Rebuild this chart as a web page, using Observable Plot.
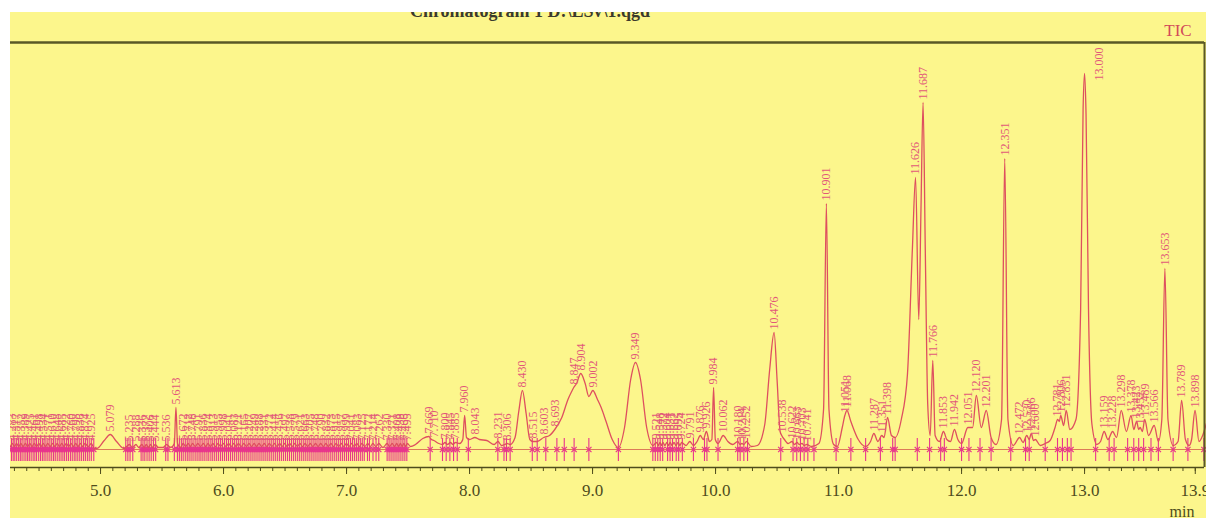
<!DOCTYPE html>
<html><head><meta charset="utf-8">
<script src="https://cdn.jsdelivr.net/npm/d3@7"></script>
<script src="https://cdn.jsdelivr.net/npm/@observablehq/plot@0.6"></script>
<style>
html,body{margin:0;padding:0;background:#fff;}
#wrap{position:absolute;left:10px;top:12px;width:1196px;height:506px;}
</style></head><body><div id="wrap"></div>
<script>
// ---- data ----
const titleText = "Chromatogram 1 D:\\LSv\\1.qgd";
const seriesName = "TIC";
const unitLabel = "min";
const xDomain = [4.268, 13.975];
const yDomain = [-18, 407];
const majorTicks = [5, 6, 7, 8, 9, 10, 11, 12, 13, 13.9];

// TIC trace: [retention time (min), signal]
const trace = [
[4.268,3],[4.283,6],[4.300,3],[4.317,6],[4.335,3],[4.352,6],[4.370,3],[4.389,6],[4.407,3],[4.425,6],[4.443,3],[4.461,6],[4.480,3],[4.498,6],[4.516,3],[4.534,6],[4.552,3],[4.571,6],[4.590,3],[4.610,6],[4.629,3],[4.648,6],[4.666,3],[4.685,6],[4.703,3],[4.722,6],[4.741,3],[4.760,6],[4.779,3],[4.798,6],[4.817,3],[4.836,6],[4.855,3],[4.874,6],[4.900,3],[4.925,6],[4.950,1],
[4.97,1],[5.03,9],[5.079,15],[5.13,8],[5.19,1],[5.235,5],[5.26,2],[5.288,5],[5.31,2],[5.336,5],[5.355,2],[5.372,5],[5.39,2],[5.406,5],[5.425,2],[5.444,5],[5.47,2],[5.51,2],[5.536,5],[5.57,2],[5.600,6],[5.613,42],[5.626,6],[5.65,2],
[5.672,6],[5.692,3],[5.712,6],[5.730,3],[5.748,6],[5.770,3],[5.791,6],[5.813,3],[5.836,6],[5.855,3],[5.874,6],[5.893,3],[5.913,6],[5.934,3],[5.955,6],[5.976,3],[5.998,6],[6.020,3],[6.041,6],[6.062,3],[6.083,6],[6.102,3],[6.121,6],[6.143,3],[6.165,6],[6.186,3],[6.207,6],[6.228,3],[6.249,6],[6.268,3],[6.288,6],[6.310,3],[6.331,6],[6.352,3],[6.372,6],[6.393,3],[6.414,6],[6.435,3],[6.456,6],[6.476,3],[6.497,6],[6.517,3],[6.538,6],[6.558,3],[6.579,6],[6.600,3],[6.621,6],[6.642,3],[6.663,6],[6.684,3],[6.705,6],[6.726,3],[6.748,6],[6.769,3],[6.790,6],[6.811,3],[6.832,6],[6.852,3],[6.873,6],[6.894,3],[6.915,6],[6.936,3],[6.957,6],[6.978,3],[6.999,6],[7.020,3],[7.041,6],[7.062,3],[7.083,6],[7.104,3],[7.125,6],[7.148,3],[7.172,6],[7.193,3],[7.214,6],[7.238,3],[7.262,6],[7.296,2],[7.330,6],[7.350,3],[7.371,6],[7.390,3],[7.408,6],[7.423,3],[7.438,6],[7.452,3],[7.466,6],[7.480,3],[7.495,6],[7.52,3],
[7.56,5],[7.62,11],[7.669,13],[7.69,10],[7.710,9],[7.75,6],[7.78,5],[7.800,7],[7.82,5],[7.845,7],[7.865,5],[7.885,7],[7.92,6],[7.945,10],[7.960,34],[7.975,12],[8.00,10],[8.043,12],[8.08,10],[8.14,9],[8.20,5],[8.231,8],[8.26,4],[8.285,5],[8.306,6],[8.33,5],[8.37,12],[8.40,38],[8.430,59],[8.46,36],[8.49,10],[8.515,8],[8.55,8],[8.603,12],[8.65,14],[8.693,20],[8.75,32],[8.80,50],[8.83,58],[8.847,62],[8.87,66],[8.904,76],[8.94,66],[8.97,53],[9.002,59],[9.04,50],[9.07,42],[9.11,28],[9.16,10],[9.21,2],[9.26,22],[9.31,70],[9.349,87],[9.39,70],[9.44,22],[9.49,4],
[9.521,7],[9.535,4],[9.548,7],[9.56,4],[9.572,7],[9.588,4],[9.604,7],[9.617,4],[9.631,7],[9.646,4],[9.662,7],[9.678,4],[9.695,7],[9.71,4],[9.724,7],[9.76,4],[9.791,8],[9.82,4],[9.850,8],[9.876,14],[9.90,10],[9.926,18],[9.95,8],[9.970,10],[9.984,62],[9.998,10],[10.02,6],[10.062,14],[10.10,8],[10.14,5],[10.180,8],[10.20,5],[10.214,6],[10.23,5],[10.252,8],[10.29,3],[10.34,4],[10.40,25],[10.44,80],[10.476,117],[10.50,70],[10.525,18],[10.538,14],[10.56,10],[10.59,6],[10.622,8],[10.64,5],[10.663,7],[10.68,5],[10.703,6],[10.72,4],[10.741,5],[10.78,3],[10.84,6],[10.878,40],[10.901,246],[10.922,40],[10.96,5],
[10.99,3],[11.03,22],[11.051,34],[11.068,39],[11.10,28],[11.16,10],[11.22,3],[11.26,8],[11.287,16],[11.32,8],[11.351,14],[11.37,12],[11.398,32],[11.43,14],[11.46,12],[11.51,30],[11.56,75],[11.60,200],[11.626,272],[11.652,130],[11.670,240],[11.687,347],[11.705,200],[11.725,45],[11.745,14],[11.766,89],[11.785,14],[11.82,8],[11.853,18],[11.88,10],[11.91,8],[11.942,20],[11.97,10],[12.00,6],[12.051,22],[12.09,22],[12.120,54],[12.16,22],[12.201,39],[12.24,12],[12.28,5],[12.325,30],[12.351,291],[12.377,30],[12.42,4],
[12.472,12],[12.50,7],[12.530,14],[12.55,10],[12.566,16],[12.585,9],[12.600,10],[12.64,4],[12.68,6],[12.72,9],[12.76,22],[12.781,30],[12.795,28],[12.806,34],[12.83,24],[12.851,39],[12.88,20],[12.93,30],[12.968,140],[12.988,340],[13.000,376],[13.012,335],[13.032,140],[13.06,25],[13.10,5],
[13.13,8],[13.159,18],[13.19,10],[13.228,18],[13.26,12],[13.298,39],[13.34,18],[13.378,34],[13.40,20],[13.423,28],[13.44,20],[13.452,22],[13.47,18],[13.489,30],[13.52,14],[13.566,24],[13.60,8],[13.628,30],[13.653,181],[13.678,30],[13.72,4],[13.76,8],[13.789,49],[13.82,10],[13.85,4],[13.87,10],[13.898,39],[13.93,8],[13.96,14],[13.99,26]
];

// peak labels: [retention time label, apex signal]
const peaksEarly = [
["4.283",6],["4.317",6],["4.352",6],["4.389",6],["4.425",6],["4.461",6],["4.498",6],["4.534",6],["4.571",6],["4.610",6],["4.648",6],["4.685",6],["4.722",6],["4.760",6],["4.798",6],["4.836",6],["4.874",6],["4.925",6],
["5.079",15],["5.235",5],["5.288",5],["5.336",5],["5.372",5],["5.406",5],["5.444",5],["5.536",5],["5.613",42],
["5.672",6],["5.712",6],["5.748",6],["5.791",6],["5.836",6],["5.874",6],["5.913",6],["5.955",6],["5.998",6],["6.041",6],["6.083",6],["6.121",6],["6.165",6],["6.207",6],["6.249",6],["6.288",6],["6.331",6],["6.372",6],["6.414",6],["6.456",6],["6.497",6],["6.538",6],["6.579",6],["6.621",6],["6.663",6],["6.705",6],["6.748",6],["6.790",6],["6.832",6],["6.873",6],["6.915",6],["6.957",6],["6.999",6],["7.041",6],["7.083",6],["7.125",6],["7.172",6],["7.214",6],["7.262",6],["7.330",6],["7.371",6],["7.408",6],["7.438",6],["7.466",6],["7.495",6]
];
const peaksMid = [
["7.669",13],["7.710",9],["7.800",7],["7.845",7],["7.885",7],["7.960",34],["8.043",12],["8.231",8],["8.306",6],["8.430",59],["8.515",8],["8.603",12],["8.693",20],["8.847",62],["8.904",76],["9.002",59],["9.349",87],
["9.521",7],["9.548",7],["9.572",7],["9.604",7],["9.631",7],["9.662",7],["9.695",7],["9.724",7],["9.791",8],["9.876",14],["9.926",18],["9.984",62],["10.062",14],["10.180",8],["10.214",6],["10.252",8],["10.476",117],["10.538",14],["10.622",8],["10.663",7],["10.703",6],["10.741",5]
];
const peaksLate = [
["10.901",246],["11.051",34],["11.068",39],["11.287",16],["11.351",14],["11.398",32],["11.626",272],["11.687",347],["11.766",89],["11.853",18],["11.942",20],["12.051",22],["12.120",54],["12.201",39],["12.351",291],
["12.472",12],["12.530",14],["12.566",16],["12.600",10],["12.781",30],["12.806",34],["12.851",39],["13.000",376],
["13.159",18],["13.228",18],["13.298",39],["13.378",34],["13.423",28],["13.452",22],["13.489",30],["13.566",24],["13.653",181],["13.789",49],["13.898",39]
];

// integration markers (peak start/end), min
const markerTimes = [
4.276,4.290,4.303,4.318,4.334,4.348,4.362,4.378,4.393,4.407,4.421,4.436,4.452,4.466,4.480,4.497,4.512,4.527,4.541,4.556,4.572,4.588,4.603,4.618,4.632,4.648,4.664,4.679,4.694,4.708,4.724,4.739,4.755,4.770,4.786,4.800,4.815,4.831,4.846,4.862,4.877,4.893,4.908,4.925,4.945,
5.205,5.222,5.240,5.262,5.330,5.345,5.360,5.378,5.395,5.412,5.430,5.448,5.530,5.548,5.600,
5.625,5.641,5.657,5.672,5.689,5.705,5.720,5.736,5.752,5.769,5.785,5.801,5.816,5.832,5.848,5.865,5.880,5.897,5.912,5.928,5.944,5.960,5.976,5.992,6.008,6.024,6.040,6.056,6.072,6.088,6.104,6.120,6.136,6.152,6.168,6.184,6.200,6.216,6.232,6.248,6.264,6.280,6.296,6.312,6.328,6.344,6.360,6.376,6.392,6.408,6.424,6.440,6.456,6.472,6.488,6.504,6.520,6.536,6.552,6.568,6.584,6.600,6.616,6.632,6.648,6.664,6.680,6.696,6.712,6.728,6.744,6.760,6.776,6.792,6.808,6.824,6.840,6.856,6.872,6.888,6.904,6.920,6.936,6.952,6.968,6.984,7.000,7.016,7.032,7.048,7.064,7.080,7.096,7.112,7.128,7.144,7.170,7.186,7.215,7.240,7.262,7.330,7.346,7.362,7.378,7.394,7.410,7.426,7.442,7.458,7.474,7.490,
7.68,7.78,7.81,7.84,7.87,7.90,7.99,8.23,8.28,8.30,8.33,8.51,8.55,8.62,8.71,8.77,8.85,8.97,9.21,9.49,9.51,9.53,9.55,9.57,9.61,9.63,9.65,9.68,9.70,9.73,9.82,9.91,9.93,10.02,10.18,10.20,10.23,10.26,10.53,10.63,10.66,10.69,10.72,10.75,10.80,
10.98,11.10,11.22,11.34,11.44,11.46,11.64,11.74,11.83,11.86,12.00,12.06,12.15,12.24,12.40,12.52,12.55,12.68,12.78,12.82,12.86,12.89,13.09,13.20,13.24,13.35,13.40,13.44,13.48,13.54,13.60,13.72,13.84,13.97
];

// ---- build ----
const peaks = [...peaksEarly, ...peaksMid, ...peaksLate].map(([label, h]) => ({t: +label, label, h}));
const topPeak = d3.greatest(peaks, d => d.h);
const otherPeaks = peaks.filter(d => d !== topPeak);
const minorTicks = d3.range(43, 140).map(d => d / 10);

const olive = "#4e4c1c";
const labelColor = "#e2587a";
const markColor = "#e8348c";

const chart = Plot.plot({
  width: 1196, height: 506,
  marginLeft: 0, marginRight: 2, marginTop: 30, marginBottom: 51,
  x: {domain: xDomain},
  y: {domain: yDomain, axis: null},
  style: {background: "#fcf68c", overflow: "hidden", fontFamily: "'Liberation Serif', 'DejaVu Serif', serif"},
  marks: [
    Plot.ruleY([0], {x1: xDomain[0], x2: xDomain[1], stroke: "#dc7a58", strokeWidth: 1}),
    Plot.ruleX(markerTimes, {y1: -12, y2: 11, stroke: markColor, strokeWidth: 1.1}),
    Plot.dot(markerTimes, {x: d => d, y: 0, symbol: "times", r: 2.5, stroke: markColor, strokeWidth: 1.2}),
    Plot.line(trace, {x: d => d[0], y: d => d[1], curve: "monotone-x", stroke: "#de4f5f", strokeWidth: 1.3}),
    Plot.text(otherPeaks, {x: "t", y: "h", text: "label", rotate: -90, textAnchor: "start", dy: -3, fontSize: 12, fill: labelColor}),
    Plot.text([topPeak], {x: "t", y: "h", text: "label", rotate: -90, textAnchor: "start", dx: 15, dy: 7, fontSize: 12, fill: labelColor}),
    Plot.ruleY([yDomain[1]], {stroke: "#5a5826", strokeWidth: 2.5}),
    Plot.ruleY([yDomain[0]], {stroke: olive, strokeWidth: 1.5}),
    Plot.ruleX([xDomain[1]], {stroke: "#5a5826", strokeWidth: 2}),
    Plot.ruleX(minorTicks, {y1: yDomain[0], y2: yDomain[0] - 4, stroke: olive, strokeWidth: 1}),
    Plot.axisX(majorTicks, {tickSize: 7, tickPadding: 9, tickFormat: ".1f", fontSize: 17, stroke: olive, fill: olive, label: null})
  ]
});

const svg = d3.select(chart);
svg.append("text").attr("x", 520).attr("y", 5).attr("text-anchor", "middle")
  .attr("font-size", 18).attr("font-weight", "bold").attr("fill", "#3a3a2c").text(titleText);
svg.append("text").attr("x", 1168).attr("y", 24)
  .attr("font-size", 17).attr("fill", "#d24a5a").text(seriesName);
svg.append("text").attr("x", 1172).attr("y", 505)
  .attr("font-size", 16).attr("fill", olive).text(unitLabel);

document.getElementById("wrap").appendChild(chart);
</script></body></html>
